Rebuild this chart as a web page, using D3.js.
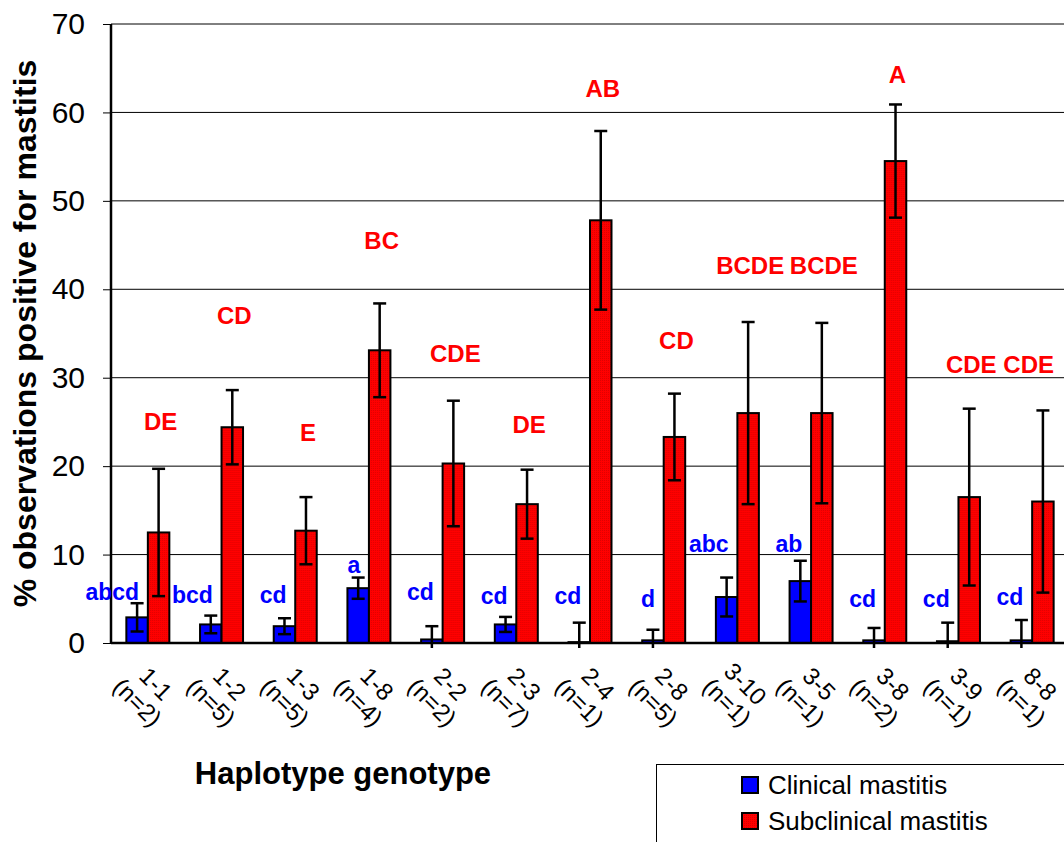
<!DOCTYPE html>
<html>

<head>
    <title>Mastitis by haplotype genotype</title>
    <script src="https://d3js.org/d3.v7.min.js"></script>
    <style>
        body { margin: 0; background: #fff; }
        text { font-family: "Liberation Sans", Arial, sans-serif; }
    </style>
</head>

<body>
    <div id="chart"></div>

    <script>
        // data
        const genotypes = ["1-1", "1-2", "1-3", "1-8", "2-2", "2-3", "2-4", "2-8", "3-10", "3-5", "3-8", "3-9", "8-8"];
        const nObs = [2, 5, 5, 4, 2, 7, 1, 5, 1, 1, 2, 1, 1];

        const clinical = [2.9, 2.1, 1.9, 6.2, 0.4, 2.1, 0.1, 0.3, 5.2, 7.0, 0.3, 0.2, 0.3];
        const clinicalErr = [1.6, 1.0, 0.9, 1.2, 1.5, 0.85, 2.2, 1.2, 2.2, 2.3, 1.4, 2.1, 2.3];
        const subclinical = [12.5, 24.4, 12.7, 33.1, 20.3, 15.7, 47.8, 23.3, 26.0, 26.0, 54.5, 16.5, 16.0];
        const subclinicalErr = [7.2, 4.2, 3.8, 5.3, 7.1, 3.9, 10.1, 4.9, 10.3, 10.2, 6.4, 10.0, 10.3];

        // significance letters and the height (in % units) where they sit
        const clinicalLetters = ["abcd", "bcd", "cd", "a", "cd", "cd", "cd", "d", "abc", "ab", "cd", "cd", "cd"];
        const clinicalLetterY = [4.9, 4.5, 4.5, 7.9, 4.9, 4.4, 4.4, 4.1, 10.3, 10.3, 4.1, 4.1, 4.3];
        const subLetters = ["DE", "CD", "E", "BC", "CDE", "DE", "AB", "CD", "BCDE", "BCDE", "A", "CDE", "CDE"];
        const subLetterY = [24.1, 36.1, 22.8, 44.6, 31.8, 23.7, 61.7, 33.2, 41.7, 41.7, 63.3, 30.5, 30.5];

        const yTicks = [0, 10, 20, 30, 40, 50, 60, 70];

        const width = 1064, height = 842;
        const plotLeft = 111, plotTop = 24, plotBottom = 643;
        const plotRight = 1069; // plot area runs a little past the picture edge

        const svg = d3.select("#chart").append("svg")
            .attr("width", width)
            .attr("height", height);

        // red bars have a fine dotted fill
        const defs = svg.append("defs");
        const pat = defs.append("pattern")
            .attr("id", "redDots")
            .attr("width", 2).attr("height", 2)
            .attr("patternUnits", "userSpaceOnUse");
        pat.append("rect").attr("width", 2).attr("height", 2).attr("fill", "#ff0000");
        pat.append("rect").attr("width", 1).attr("height", 1).attr("fill", "#e00000");

        defs.append("clipPath").attr("id", "errClip")
            .append("rect")
            .attr("x", plotLeft).attr("y", 0)
            .attr("width", width).attr("height", plotBottom + 5);

        const x = d3.scaleBand()
            .domain(genotypes)
            .range([plotLeft, plotRight])
            .padding(0);

        const y = d3.scaleLinear()
            .domain([0, 70])
            .range([plotBottom, plotTop]);

        const barW = 21.5;

        // gridlines
        svg.append("g")
            .selectAll("line")
            .data(yTicks.filter(d => d > 0))
            .join("line")
            .attr("x1", plotLeft).attr("x2", width)
            .attr("y1", d => y(d)).attr("y2", d => y(d))
            .attr("stroke", "#000")
            .attr("stroke-width", 1);

        // y axis
        const yAxis = svg.append("g")
            .attr("transform", `translate(${plotLeft},0)`)
            .call(d3.axisLeft(y).tickValues(yTicks).tickSize(8).tickPadding(18));
        yAxis.select(".domain").attr("stroke-width", 2.5).attr("d", `M0,${plotTop}V${plotBottom}`);
        yAxis.selectAll(".tick line").attr("stroke-width", 1);
        yAxis.selectAll(".tick text")
            .attr("font-family", "Liberation Sans, Arial, sans-serif")
            .attr("font-size", 30)
            .attr("fill", "#000");

        const rows = genotypes.map((g, i) => ({
            g, i,
            c: clinical[i], ce: clinicalErr[i],
            s: subclinical[i], se: subclinicalErr[i]
        }));

        const groups = svg.append("g")
            .selectAll("g")
            .data(rows)
            .join("g")
            .attr("transform", d => `translate(${x(d.g) + x.bandwidth() / 2},0)`);

        // clinical bars (blue, left of centre)
        groups.append("rect")
            .attr("x", -barW)
            .attr("y", d => y(d.c))
            .attr("width", barW)
            .attr("height", d => y(0) - y(d.c))
            .attr("fill", "#0000ff")
            .attr("stroke", "#000")
            .attr("stroke-width", 2);

        // subclinical bars (red, right of centre)
        groups.append("rect")
            .attr("x", 0)
            .attr("y", d => y(d.s))
            .attr("width", barW)
            .attr("height", d => y(0) - y(d.s))
            .attr("fill", "url(#redDots)")
            .attr("stroke", "#000")
            .attr("stroke-width", 2);

        // x axis line drawn over the bar bottoms
        svg.append("line")
            .attr("x1", plotLeft).attr("x2", width)
            .attr("y1", plotBottom).attr("y2", plotBottom)
            .attr("stroke", "#000")
            .attr("stroke-width", 2.5);

        // error bars
        const errG = svg.append("g").attr("clip-path", "url(#errClip)");
        const errData = [];
        rows.forEach(d => {
            const cx = x(d.g) + x.bandwidth() / 2;
            errData.push({ cx: cx - barW / 2, v: d.c, e: d.ce });
            errData.push({ cx: cx + barW / 2, v: d.s, e: d.se });
        });
        const cap = 6.5;
        const eb = errG.selectAll("g").data(errData).join("g");
        eb.append("line")
            .attr("x1", d => d.cx).attr("x2", d => d.cx)
            .attr("y1", d => y(d.v + d.e)).attr("y2", d => y(d.v - d.e));
        eb.append("line")
            .attr("x1", d => d.cx - cap).attr("x2", d => d.cx + cap)
            .attr("y1", d => y(d.v + d.e)).attr("y2", d => y(d.v + d.e));
        eb.append("line")
            .attr("x1", d => d.cx - cap).attr("x2", d => d.cx + cap)
            .attr("y1", d => y(d.v - d.e)).attr("y2", d => y(d.v - d.e));
        eb.selectAll("line").attr("stroke", "#000").attr("stroke-width", 2.5);

        // letters
        groups.append("text")
            .attr("x", -barW / 2 + 2)
            .attr("y", d => y(clinicalLetterY[d.i]))
            .attr("text-anchor", "end")
            .attr("font-weight", "bold")
            .attr("font-size", 23)
            .attr("fill", "#0000ff")
            .text(d => clinicalLetters[d.i]);

        const redLab = groups.append("text")
            .attr("x", barW / 2 + 2)
            .attr("y", d => y(subLetterY[d.i]))
            .attr("text-anchor", "middle")
            .attr("font-weight", "bold")
            .attr("font-size", 24)
            .attr("fill", "#ff0000")
            .text(d => subLetters[d.i]);
        // keep the letters inside the picture: the last ones sit further left in the original
        redLab.each(function (d) {
            const cx = x(d.g) + x.bandwidth() / 2;
            const w = this.getComputedTextLength();
            const maxRight = width - 10;
            let pos = barW / 2 + 2;
            if (cx + pos + w / 2 > maxRight) pos = maxRight - w / 2 - cx;
            d3.select(this).attr("x", pos);
        });

        // rotated category labels, two lines
        const lab = groups.append("g")
            .attr("transform", `translate(-1,${plotBottom + 50}) rotate(45)`);
        lab.append("text")
            .attr("y", -13)
            .attr("text-anchor", "middle")
            .attr("dominant-baseline", "central")
            .attr("font-size", 24)
            .text(d => d.g);
        lab.append("text")
            .attr("y", 13)
            .attr("text-anchor", "middle")
            .attr("dominant-baseline", "central")
            .attr("font-size", 24)
            .text(d => `(n=${nObs[d.i]})`);

        // axis titles
        svg.append("text")
            .attr("transform", `translate(36,${(plotTop + plotBottom) / 2}) rotate(-90)`)
            .attr("text-anchor", "middle")
            .attr("font-weight", "bold")
            .attr("font-size", 32)
            .text("% observations positive for mastitis");

        svg.append("text")
            .attr("x", 343).attr("y", 784)
            .attr("text-anchor", "middle")
            .attr("font-weight", "bold")
            .attr("font-size", 31)
            .text("Haplotype genotype");

        // legend (box runs off the bottom right corner)
        const legend = svg.append("g");
        legend.append("rect")
            .attr("x", 656.5).attr("y", 764.5)
            .attr("width", 450).attr("height", 120)
            .attr("fill", "#fff")
            .attr("stroke", "#000")
            .attr("stroke-width", 1);
        const legItems = [
            { label: "Clinical mastitis", fill: "#0000ff" },
            { label: "Subclinical mastitis", fill: "url(#redDots)" }
        ];
        const li = legend.selectAll("g.item")
            .data(legItems)
            .join("g")
            .attr("class", "item")
            .attr("transform", (d, i) => `translate(742,${777 + i * 36})`);
        li.append("rect")
            .attr("width", 16).attr("height", 16)
            .attr("fill", d => d.fill)
            .attr("stroke", "#000")
            .attr("stroke-width", 2);
        li.append("text")
            .attr("x", 26).attr("y", 8)
            .attr("dominant-baseline", "central")
            .attr("font-size", 26)
            .text(d => d.label);
    </script>

</body>

</html>
